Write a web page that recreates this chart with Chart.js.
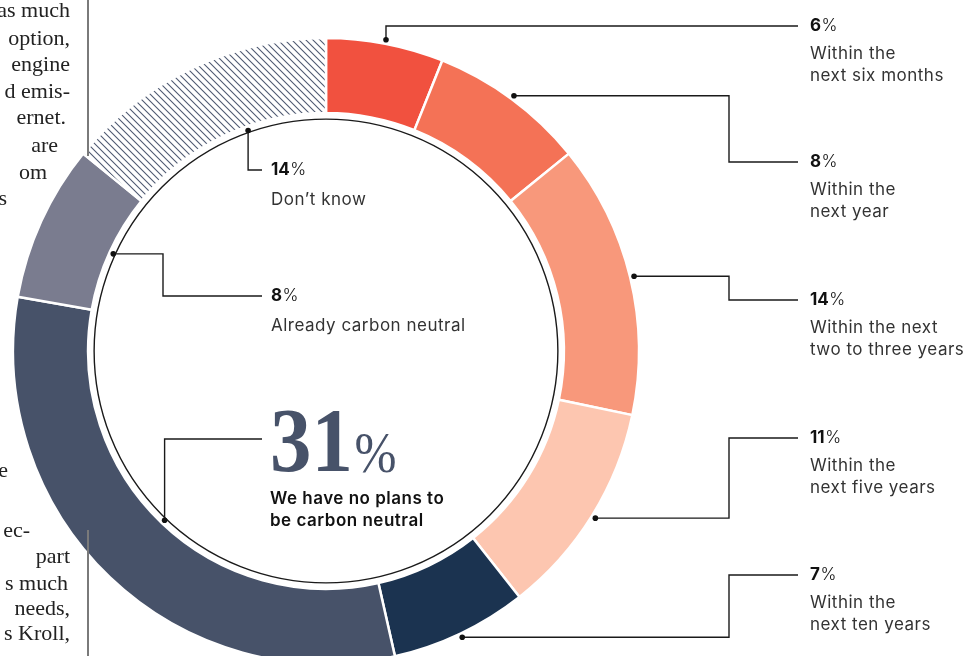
<!DOCTYPE html>
<html>
<head>
<meta charset="utf-8">
<script src="https://cdn.jsdelivr.net/npm/chart.js@4.4.0/dist/chart.umd.min.js"></script>
<style>
  html, body { margin: 0; padding: 0; background: #fff; }
  #wrap { position: relative; width: 969px; height: 656px; overflow: hidden; }
  #chart { position: absolute; left: 0; top: 0; }
  .article { position: absolute; left: 0; top: 0; width: 80px; height: 656px; overflow: hidden;
    font-family: 'Liberation Serif', serif; font-size: 22px; color: #222; }
  .article span { position: absolute; white-space: nowrap; line-height: 26px; }
  .rule { position: absolute; left: 87px; width: 1.5px; background: #7a7a7a; }
</style>
</head>
<body>
<div id="wrap">
  <canvas id="chart" width="969" height="656"></canvas>
  <div class="article" id="article"></div>
  <div class="rule" style="top:0;height:156px"></div>
  <div class="rule" style="top:530px;height:126px"></div>
</div>
<script>
// survey answers, clockwise from 12 o'clock
const categories = [
  'Within the next six months',
  'Within the next year',
  'Within the next two to three years',
  'Within the next five years',
  'Within the next ten years',
  'We have no plans to be carbon neutral',
  'Already carbon neutral',
  'Don’t know'
];
const shares = [6, 8, 14, 11, 7, 31, 8, 14];
const descriptions = [
  ['Within the', 'next six months'],
  ['Within the', 'next year'],
  ['Within the next', 'two to three years'],
  ['Within the', 'next five years'],
  ['Within the', 'next ten years'],
  ['We have no plans to', 'be carbon neutral'],
  ['Already carbon neutral'],
  ['Don’t know']
];
const colours = ['#f1513f', '#f47256', '#f8987b', '#fdc6b0', '#1b3350', '#475269', '#7a7c8f', null];

// fragments of the neighbouring article column (cut off by the page edge)
const articleLines = [
  ['as much', 10, 70], ['option,', 38, 70], ['engine', 64, 70], ['d emis-', 91, 70],
  ['ernet.', 117, 66], ['are', 145, 58], ['om', 172, 47], ['s', 198, 7],
  ['e', 470, 8], ['ec-', 530, 30], ['part', 556, 70], ['s much', 583, 68],
  ['needs,', 608, 70], ['s Kroll,', 633, 70]
];

// where each callout goes (layout only)
const callouts = [
  { ring: 'outer', textX: 810, textY: 26, endX: 798 },
  { ring: 'outer', elbowX: 729, textX: 810, textY: 162, endX: 798 },
  { ring: 'outer', elbowX: 729, textX: 810, textY: 300, endX: 798 },
  { ring: 'outer', elbowX: 729, textX: 810, textY: 438, endX: 798 },
  { ring: 'outer', elbowX: 729, textX: 810, textY: 575, endX: 798 },
  { ring: 'inner', textX: 270, textY: 439, endX: 262, big: true },
  { ring: 'inner', elbowX: 163, textX: 271, textY: 296, endX: 262 },
  { ring: 'inner', shift: 6, textX: 271, textY: 170, endX: 262 }
];

const art = document.getElementById('article');
articleLines.forEach(([txt, cy, right]) => {
  const s = document.createElement('span');
  s.textContent = txt;
  s.style.top = (cy - 13) + 'px';
  s.style.right = (80 - right) + 'px';
  art.appendChild(s);
});

function makeHatch() {
  const size = 7;
  const c = document.createElement('canvas');
  c.width = size; c.height = size;
  const g = c.getContext('2d');
  g.strokeStyle = '#4f5a72';
  g.lineWidth = 1.1;
  g.beginPath();
  g.moveTo(0, 0); g.lineTo(size, size);
  g.moveTo(-size / 2, size / 2); g.lineTo(size / 2, size * 1.5);
  g.moveTo(size / 2, -size / 2); g.lineTo(size * 1.5, size / 2);
  g.stroke();
  return g.createPattern(c, 'repeat');
}

const hatch = makeHatch();
const fills = colours.map(c => c || hatch);

const SANS = 'Inter, "Noto Sans", sans-serif';

const calloutPlugin = {
  id: 'callouts',
  afterDatasetsDraw(chart) {
    const ctx = chart.ctx;
    const arcs = chart.getDatasetMeta(0).data;
    const first = arcs[0].getProps(['x', 'y', 'innerRadius', 'outerRadius']);
    const cx = first.x, cy = first.y;
    const circleR = first.innerRadius - 6;

    ctx.save();
    // thin circle inside the ring
    ctx.strokeStyle = '#1a1a1a';
    ctx.lineWidth = 1.4;
    ctx.beginPath();
    ctx.arc(cx, cy, circleR, 0, Math.PI * 2);
    ctx.stroke();

    arcs.forEach((arc, i) => {
      const p = arc.getProps(['startAngle', 'endAngle', 'outerRadius']);
      const c = callouts[i];
      const a = (p.startAngle + p.endAngle) / 2 + (c.shift || 0) * Math.PI / 180;
      const r = c.ring === 'outer' ? p.outerRadius + 4 : circleR + 2;
      const dx = cx + r * Math.cos(a);
      const dy = cy + r * Math.sin(a);

      ctx.strokeStyle = '#1a1a1a';
      ctx.lineWidth = 1.4;
      ctx.beginPath();
      ctx.moveTo(dx, dy);
      if (c.elbowX !== undefined) {
        ctx.lineTo(c.elbowX, dy);
        ctx.lineTo(c.elbowX, c.textY);
      } else {
        ctx.lineTo(dx, c.textY);
      }
      ctx.lineTo(c.endX, c.textY);
      ctx.stroke();
      ctx.fillStyle = '#111';
      ctx.beginPath();
      ctx.arc(dx, dy, 2.8, 0, Math.PI * 2);
      ctx.fill();

      const lines = descriptions[i];
      ctx.textAlign = 'left';
      ctx.letterSpacing = '0px';
      if (c.big) {
        ctx.fillStyle = '#475269';
        ctx.textBaseline = 'alphabetic';
        ctx.save();
        ctx.translate(c.textX, 471);
        ctx.scale(0.9, 1);
        ctx.font = 'bold 92px "Liberation Serif", serif';
        const num = String(shares[i]);
        ctx.fillText(num, 0, 0);
        const w = ctx.measureText(num).width;
        ctx.font = '56px "Liberation Serif", serif';
        ctx.fillText('%', w + 2, 1);
        ctx.restore();
        ctx.fillStyle = '#111';
        ctx.textBaseline = 'middle';
        ctx.letterSpacing = '0.5px';
        ctx.font = `600 17px ${SANS}`;
        lines.forEach((t, k) => ctx.fillText(t, c.textX, 499 + k * 22));
      } else {
        ctx.textBaseline = 'middle';
        ctx.fillStyle = '#111';
        ctx.font = `bold 17px ${SANS}`;
        const num = String(shares[i]);
        ctx.fillText(num, c.textX, c.textY);
        const w = ctx.measureText(num).width;
        ctx.font = `300 17px ${SANS}`;
        ctx.fillText('%', c.textX + w + 0.5, c.textY);
        ctx.fillStyle = '#333';
        ctx.letterSpacing = '0.5px';
        ctx.font = `17px ${SANS}`;
        const off = c.ring === 'outer' ? 27.5 : 29.5;
        lines.forEach((t, k) => ctx.fillText(t, c.textX, c.textY + off + k * 22));
      }
    });
    ctx.restore();
  }
};

new Chart(document.getElementById('chart'), {
  type: 'doughnut',
  data: {
    labels: categories,
    datasets: [{
      data: shares,
      backgroundColor: fills,
      borderColor: '#ffffff',
      borderWidth: 2.5,
      radius: 313,
      cutout: '76%',
      clip: false
    }]
  },
  options: {
    responsive: false,
    animation: false,
    layout: { padding: { left: 0, right: 317, top: 46, bottom: 0 } },
    plugins: { legend: { display: false }, tooltip: { enabled: false } }
  },
  plugins: [calloutPlugin]
});
</script>
</body>
</html>
